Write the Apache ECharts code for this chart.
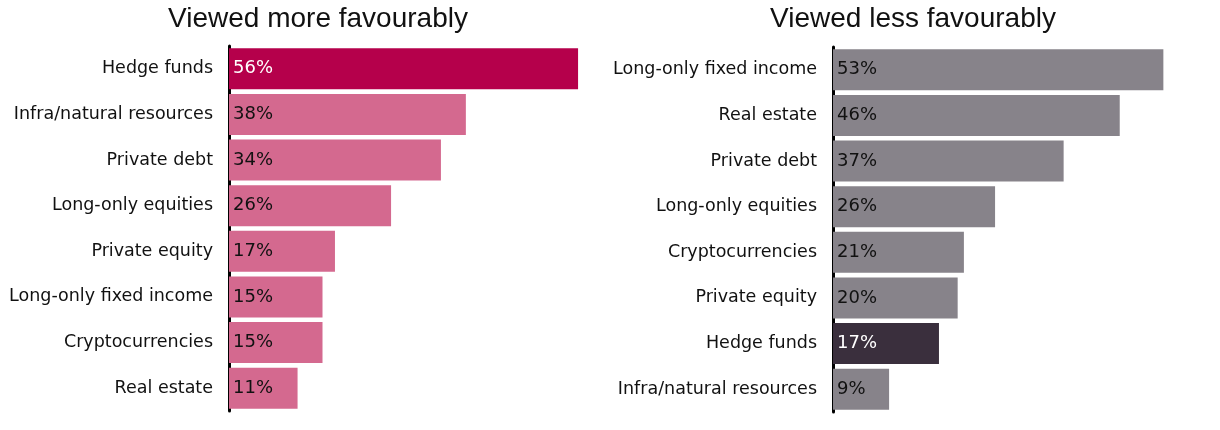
<!DOCTYPE html>
<html>
<head>
<meta charset="utf-8">
<script src="https://cdn.jsdelivr.net/npm/echarts@6/dist/echarts.min.js"></script>
<style>
html,body{margin:0;padding:0;background:#fff;}
#chart{width:1220px;height:430px;}
</style>
</head>
<body>
<div id="chart"></div>
<script>
var titleLeft = 'Viewed more favourably';
var titleRight = 'Viewed less favourably';
var catsLeft = ['Hedge funds','Infra/natural resources','Private debt','Long-only equities','Private equity','Long-only fixed income','Cryptocurrencies','Real estate'];
var valsLeft = [56,38,34,26,17,15,15,11];
var catsRight = ['Long-only fixed income','Real estate','Private debt','Long-only equities','Cryptocurrencies','Private equity','Hedge funds','Infra/natural resources'];
var valsRight = [53,46,37,26,21,20,17,9];
var highlightName = 'Hedge funds';

var FONT = '"DejaVu Sans", sans-serif';
var TFONT = '"Liberation Sans", Arial, sans-serif';

function build(cats, vals, base, hi) {
  return vals.map(function (v, i) {
    var isHi = cats[i] === highlightName;
    return {
      value: v,
      itemStyle: { color: isHi ? hi : base },
      label: { color: isHi ? '#ffffff' : '#111111' }
    };
  });
}

var chart = echarts.init(document.getElementById('chart'), null, { renderer: 'canvas' });
var catAxis = function (idx, cats) {
  return {
    type: 'category', gridIndex: idx, data: cats, inverse: true,
    axisLine: { show: true, lineStyle: { color: '#000', width: 3 } },
    axisTick: { show: false },
    axisLabel: { color: '#111', fontSize: 17.5, fontFamily: FONT, margin: 16 }
  };
};
var valAxis = function (idx) {
  return { type: 'value', gridIndex: idx, min: 0, max: 60, show: false, splitLine: { show: false } };
};
var barSeries = function (idx, data) {
  return {
    type: 'bar', xAxisIndex: idx, yAxisIndex: idx, data: data,
    barCategoryGap: '10%',
    label: { show: true, position: 'insideLeft', distance: 4, formatter: '{c}%', fontSize: 18, fontFamily: FONT },
    silent: true, animation: false
  };
};

chart.setOption({
  animation: false,
  title: [
    { text: titleLeft, left: 313, top: 0, textAlign: 'center', textStyle: { fontSize: 28, fontWeight: 'normal', color: '#111', fontFamily: TFONT } },
    { text: titleRight, left: 908, top: 0, textAlign: 'center', textStyle: { fontSize: 28, fontWeight: 'normal', color: '#111', fontFamily: TFONT } }
  ],
  grid: [
    { left: 229, top: 46, width: 374, height: 365 },
    { left: 833, top: 47, width: 374, height: 365 }
  ],
  xAxis: [valAxis(0), valAxis(1)],
  yAxis: [catAxis(0, catsLeft), catAxis(1, catsRight)],
  series: [
    barSeries(0, build(catsLeft, valsLeft, '#D4698F', '#B5004B')),
    barSeries(1, build(catsRight, valsRight, '#87838A', '#3A2F3D'))
  ]
});
</script>
</body>
</html>
